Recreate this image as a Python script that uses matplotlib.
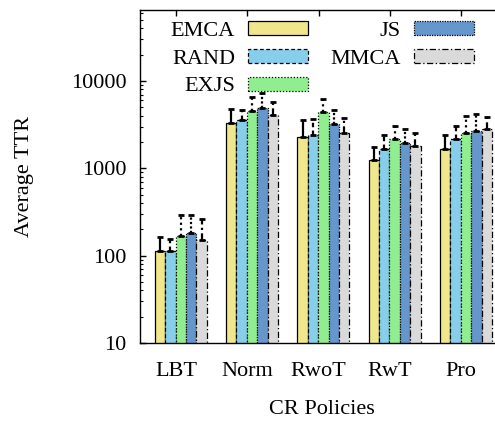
import numpy as np
import matplotlib
matplotlib.use("Agg")
import matplotlib.pyplot as plt

plt.rcParams['font.family'] = ['Liberation Serif', 'DejaVu Serif']
plt.rcParams['font.size'] = 16

categories = ["LBT", "Norm", "RwoT", "RwT", "Pro"]
series = ["EMCA", "RAND", "EXJS", "JS", "MMCA"]

# mean values
emca = [112, 3320, 2310, 1260, 1680]
rand = [112, 3530, 2390, 1670, 2140]
exjs = [167, 4570, 4440, 2150, 2570]
js   = [180, 4900, 3210, 1950, 2690]
mmca = [151, 4060, 2510, 1790, 2790]

# upper end of error bars
emca_hi = [162, 4730, 3560, 1760, 2400]
rand_hi = [157, 4680, 3720, 2380, 3090]
exjs_hi = [295, 6620, 6200, 3020, 3930]
js_hi   = [290, 7240, 4680, 2820, 4140]
mmca_hi = [264, 5690, 3760, 2510, 3830]

values = [emca, rand, exjs, js, mmca]
highs = [emca_hi, rand_hi, exjs_hi, js_hi, mmca_hi]

colors = ["#F0E68C", "#87CEEB", "#90EE90", "#6596CC", "#DADADA"]
edge_styles = ["-", (0, (3, 2)), (0, (1, 1.5)), (0, (1, 1)), (0, (5, 2, 1, 2))]
err_styles = ["-", (0, (2, 1.5)), (0, (1, 1.5)), (0, (1, 1)), (0, (3, 1.5, 1, 1.5))]

fig = plt.figure(figsize=(4.95, 4.25), dpi=100)
ax = fig.add_axes([140.35 / 495, 82 / 425, 356.5 / 495, 333 / 425])

x = np.arange(len(categories))
width = 0.146
start = -0.298
for i, (name, vals, hi) in enumerate(zip(series, values, highs)):
    xpos = x + start + width * (i + 0.5)
    ax.bar(xpos, vals, width=width, color=colors[i], edgecolor="black",
           linewidth=0.9, linestyle=edge_styles[i], label=name, zorder=2)
    vals_a = np.array(vals, dtype=float)
    up = np.array(hi, dtype=float) - vals_a
    eb = ax.errorbar(xpos, vals_a, yerr=[np.zeros_like(up), up], fmt='none',
                     ecolor="black", elinewidth=1.6, capsize=2.5, capthick=2,
                     zorder=3)
    for lc in eb[2]:
        lc.set_linestyle(err_styles[i])

ax.set_yscale("log")
ax.set_ylim(10, 65000)
ax.set_xlim(-0.5, 4.5)
ax.set_xticks(x)
ax.set_xticklabels(categories)
ax.set_yticks([10, 100, 1000, 10000])
ax.set_yticklabels(["10", "100", "1000", "10000"])

ax.tick_params(axis="both", which="major", direction="in", length=4, width=1,
               top=True, right=False, labelsize=16)
ax.tick_params(axis="y", which="major", pad=10)
ax.tick_params(axis="x", which="major", pad=14)
ax.tick_params(axis="y", which="minor", direction="in", length=2, width=0.8, right=False)
for s in ax.spines.values():
    s.set_linewidth(1)

fig.text(25 / 495, 1 - 176 / 425, "Average TTR", rotation=90, ha="center",
         va="center", fontsize=16)
fig.text(321.7 / 495, 1 - 410 / 425, "CR Policies", ha="center", va="center",
         fontsize=16)

leg = ax.legend(loc="upper left", bbox_to_anchor=(170.7 / 495, 1 - 21 / 425),
                bbox_transform=fig.transFigure, ncol=2, frameon=False,
                markerfirst=False, borderpad=0, handlelength=2.68,
                handleheight=0.59, handletextpad=0.6, columnspacing=1.0,
                labelspacing=0.36, fontsize=16, borderaxespad=0)

fig.savefig("out.png", dpi=100)
